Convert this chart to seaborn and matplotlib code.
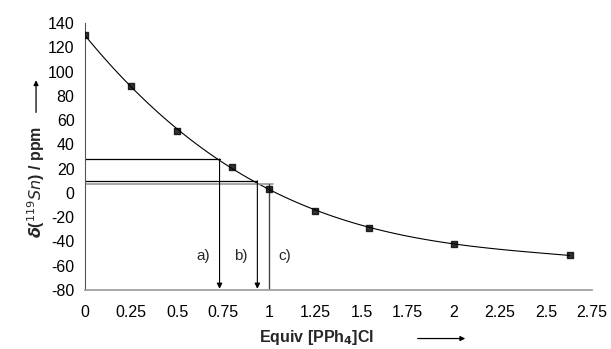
import numpy as np
import pandas as pd
import matplotlib
matplotlib.use("Agg")
import matplotlib.pyplot as plt
import seaborn as sns

# dane
equiv = [0.0, 0.25, 0.5, 0.8, 1.0, 1.25, 1.54, 2.0, 2.63]
shift = [130, 88, 51, 21, 3.5, -14.5, -28.5, -42, -51.5]

# linie pomocnicze a), b), c)
guide_x = [0.73, 0.935, 1.0]
guide_y = [28, 10, 7]
guide_labels = ["a)", "b)", "c)"]
label_x = [0.64, 0.845, 1.085]

df = pd.DataFrame({"equiv": equiv, "shift": shift})

sns.set_style("white")
plt.rcParams["font.family"] = ["Liberation Sans", "DejaVu Sans"]
plt.rcParams["axes.unicode_minus"] = False

fig = plt.figure(figsize=(6.11, 3.49), dpi=100)
ax = fig.add_axes([0.139, 0.169, 0.83, 0.765])

sns.regplot(data=df, x="equiv", y="shift", order=3, ci=None, ax=ax,
            marker="s", scatter_kws={"s": 18, "color": "black", "zorder": 5},
            line_kws={"color": "black", "lw": 0.8})

# poziome linie do krzywej
ax.plot([0, guide_x[0]], [guide_y[0]] * 2, color="black", lw=0.9)
ax.plot([0, guide_x[1]], [guide_y[1]] * 2, color="black", lw=0.9)
ax.plot([0, guide_x[2] + 0.02], [guide_y[2]] * 2, color="#999999", lw=1.2)

# strzalki w dol
for gx, gy in zip(guide_x[:2], guide_y[:2]):
    ax.annotate("", xy=(gx, -79), xytext=(gx, gy),
                arrowprops=dict(arrowstyle="-|>", color="black", lw=0.8,
                                mutation_scale=8, shrinkA=0, shrinkB=0))
ax.plot([guide_x[2]] * 2, [guide_y[2], -80], color="#444444", lw=1.0)

for lx, lab in zip(label_x, guide_labels):
    ax.text(lx, -52, lab, fontsize=11, ha="center", va="center")

ax.set_xlim(0, 2.75)
ax.set_ylim(-80, 140)
ax.set_xticks(np.arange(0, 2.76, 0.25))
ax.set_xticklabels(["0", "0.25", "0.5", "0.75", "1", "1.25", "1.5", "1.75",
                    "2", "2.25", "2.5", "2.75"])
ax.set_yticks(np.arange(-80, 141, 20))
ax.tick_params(axis="both", labelsize=11.5, direction="out", length=4,
               width=0.8, colors="#333333", labelcolor="black")
ax.tick_params(axis="x", pad=7)
ax.margins(0)

sns.despine(ax=ax)
ax.spines["left"].set_color("#555555")
ax.spines["bottom"].set_color("#999999")
ax.spines["bottom"].set_linewidth(1.2)

ax.set_xlabel("")
ax.set_ylabel("")
ax.text(0.457, -0.178, r"Equiv [PPh$_\mathbf{4}$]Cl", transform=ax.transAxes,
        fontsize=11.5, fontweight="bold", ha="center", va="center")
ax.text(-0.097, 0.404,
        r"$\mathbfit{\delta}$($^{\mathit{119}}$$\mathit{Sn}$) / ppm",
        transform=ax.transAxes, rotation=90, fontsize=11.5,
        fontweight="bold", ha="center", va="center")

# strzalki przy opisach osi
fig.add_artist(matplotlib.patches.FancyArrowPatch(
    (0.679, 0.03), (0.766, 0.03), transform=fig.transFigure,
    arrowstyle="-|>", mutation_scale=7, color="black", lw=0.9))
fig.add_artist(matplotlib.patches.FancyArrowPatch(
    (0.059, 0.67), (0.059, 0.778), transform=fig.transFigure,
    arrowstyle="-|>", mutation_scale=7, color="black", lw=0.9))

fig.savefig("out.png", dpi=100)
